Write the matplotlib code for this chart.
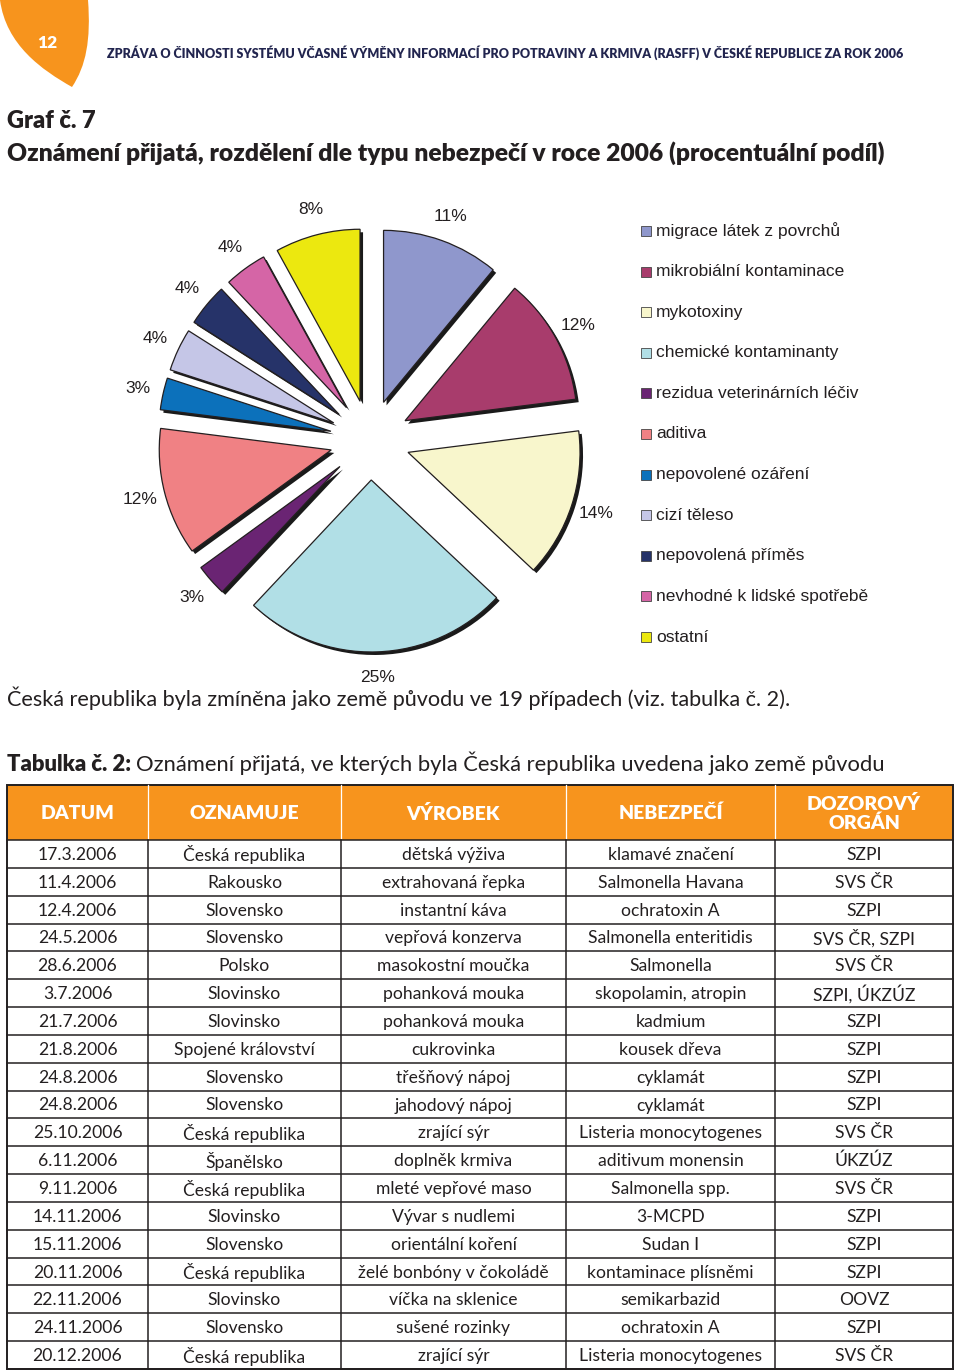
import matplotlib
matplotlib.use("Agg")
import matplotlib.pyplot as plt
from matplotlib.patches import Rectangle, PathPatch
from matplotlib.path import Path

plt.rcParams['font.family'] = ['Lato', 'DejaVu Sans']

# --- data ---------------------------------------------------------------
categories = ['migrace látek z povrchů', 'mikrobiální kontaminace', 'mykotoxiny',
              'chemické kontaminanty', 'rezidua veterinárních léčiv', 'aditiva',
              'nepovolené ozáření', 'cizí těleso', 'nepovolená příměs',
              'nevhodné k lidské spotřebě', 'ostatní']
shares = [11, 12, 14, 25, 3, 12, 3, 4, 4, 4, 8]
colors = ['#8f97cc', '#a83c6c', '#f8f6cc', '#b1dfe6', '#6a2473', '#f08184',
          '#0c71bb', '#c5c6e7', '#263369', '#d565a6', '#ece80f']

table_head = ['DATUM', 'OZNAMUJE', 'VÝROBEK', 'NEBEZPEČÍ', 'DOZOROVÝ\nORGÁN']
dates = ['17.3.2006', '11.4.2006', '12.4.2006', '24.5.2006', '28.6.2006', '3.7.2006',
         '21.7.2006', '21.8.2006', '24.8.2006', '24.8.2006', '25.10.2006', '6.11.2006',
         '9.11.2006', '14.11.2006', '15.11.2006', '20.11.2006', '22.11.2006',
         '24.11.2006', '20.12.2006']
notifiers = ['Česká republika', 'Rakousko', 'Slovensko', 'Slovensko', 'Polsko',
             'Slovinsko', 'Slovinsko', 'Spojené království', 'Slovensko', 'Slovensko',
             'Česká republika', 'Španělsko', 'Česká republika', 'Slovinsko', 'Slovensko',
             'Česká republika', 'Slovinsko', 'Slovensko', 'Česká republika']
products = ['dětská výživa', 'extrahovaná řepka', 'instantní káva', 'vepřová konzerva',
            'masokostní moučka', 'pohanková mouka', 'pohanková mouka', 'cukrovinka',
            'třešňový nápoj', 'jahodový nápoj', 'zrající sýr', 'doplněk krmiva',
            'mleté vepřové maso', 'Vývar s nudlemi', 'orientální koření',
            'želé bonbóny v čokoládě', 'víčka na sklenice', 'sušené rozinky', 'zrající sýr']
hazards = ['klamavé značení', 'Salmonella Havana', 'ochratoxin A', 'Salmonella enteritidis',
           'Salmonella', 'skopolamin, atropin', 'kadmium', 'kousek dřeva', 'cyklamát',
           'cyklamát', 'Listeria monocytogenes', 'aditivum monensin', 'Salmonella spp.',
           '3-MCPD', 'Sudan I', 'kontaminace plísněmi', 'semikarbazid', 'ochratoxin A',
           'Listeria monocytogenes']
authorities = ['SZPI', 'SVS ČR', 'SZPI', 'SVS ČR, SZPI', 'SVS ČR', 'SZPI, ÚKZÚZ', 'SZPI',
               'SZPI', 'SZPI', 'SZPI', 'SVS ČR', 'ÚKZÚZ', 'SVS ČR', 'SZPI', 'SZPI', 'SZPI',
               'OOVZ', 'SZPI', 'SVS ČR']

ORANGE = '#f7941d'
INK = '#231f20'
BOLD = 'heavy'

fig = plt.figure(figsize=(9.6, 13.71), dpi=100)
ax0 = fig.add_axes([0, 0, 1, 1])
ax0.set_xlim(0, 960)
ax0.set_ylim(1371, 0)
ax0.axis('off')
renderer = fig.canvas.get_renderer()


def fit(t, width):
    # scale font so the text spans the given pixel width
    w = t.get_window_extent(renderer).width
    t.set_fontsize(t.get_fontsize() * width / w)
    return t


# page header: orange petal with page number
petal = Path([(0, 0), (88, 0), (91, 40), (86, 66), (72, 87), (42, 70), (6, 45), (0, 0), (0, 0)],
             [Path.MOVETO, Path.LINETO, Path.CURVE4, Path.CURVE4, Path.CURVE4,
              Path.CURVE4, Path.CURVE4, Path.CURVE4, Path.CLOSEPOLY])
ax0.add_patch(PathPatch(petal, facecolor=ORANGE, edgecolor='none'))
ax0.text(47, 43, '12', color='white', fontsize=12.5, fontweight=BOLD, ha='center', va='center')
fit(ax0.text(107, 58, 'ZPRÁVA O ČINNOSTI SYSTÉMU VČASNÉ VÝMĚNY INFORMACÍ PRO POTRAVINY A KRMIVA '
             '(RASFF) V ČESKÉ REPUBLICE ZA ROK 2006', color='#22254f', fontsize=8,
             fontweight=BOLD, va='baseline'), 796)

# titles
ax0.text(7, 128, 'Graf č. 7', color=INK, fontsize=17, fontweight=BOLD, va='baseline')
fit(ax0.text(7, 161, 'Oznámení přijatá, rozdělení dle typu nebezpečí v roce 2006 '
             '(procentuální podíl)', color=INK, fontsize=16, fontweight=BOLD,
             va='baseline'), 875)

# --- pie ----------------------------------------------------------------
cx, cy, r_px, half = 370, 440, 172, 262
axp = fig.add_axes([(cx - half) / 960, (1371 - cy - half) / 1371, 2 * half / 960, 2 * half / 1371])
explode = [40 / r_px] * len(shares)
off = 3 / r_px
axp.pie(shares, colors=['#1a1a1a'] * len(shares), explode=explode, startangle=90,
        counterclock=False, center=(off, -off), wedgeprops=dict(linewidth=0))
wedges, texts = axp.pie(shares, colors=colors, explode=explode, startangle=90,
                        counterclock=False, labels=[f'{v}%' for v in shares],
                        labeldistance=1.15,
                        wedgeprops=dict(edgecolor=INK, linewidth=0.9),
                        textprops=dict(fontsize=12.5, color=INK, family='Liberation Sans'))
for t in texts:
    t.set_ha('center')
    t.set_va('center')
axp.set_xlim(-half / r_px, half / r_px)
axp.set_ylim(-half / r_px, half / r_px)
axp.set_aspect('equal')
axp.axis('off')

# legend
for i, (lab, col) in enumerate(zip(categories, colors)):
    y = 231 + i * 40.6
    ax0.add_patch(Rectangle((641, y - 5), 10, 10, facecolor=col, edgecolor='#444444',
                            linewidth=0.6))
    ax0.text(656, y, lab, fontsize=12.5, color=INK, family='Liberation Sans', va='center')

# --- text between chart and table --------------------------------------
fit(ax0.text(7, 706, 'Česká republika byla zmíněna jako země původu ve 19 případech '
             '(viz. tabulka č. 2).', color=INK, fontsize=15, va='baseline'), 784)

t1 = ax0.text(7, 771, 'Tabulka č. 2:', color=INK, fontsize=15, fontweight=BOLD, va='baseline')
w1 = t1.get_window_extent(renderer).width
t2 = ax0.text(7 + w1 + 4, 771, 'Oznámení přijatá, ve kterých byla Česká republika uvedena '
              'jako země původu', color=INK, fontsize=15, va='baseline')
w2 = t2.get_window_extent(renderer).width
k = 879 / (w1 + 4 + w2)
t1.set_fontsize(15 * k)
t2.set_fontsize(15 * k)
t2.set_x(7 + (w1 + 4) * k)

# --- table --------------------------------------------------------------
col_x = [7, 148, 341, 566, 775, 953]
head_top, head_bot = 785, 840
row_h = (1369 - head_bot) / len(dates)
table_bot = head_bot + row_h * len(dates)

ax0.add_patch(Rectangle((col_x[0], head_top), col_x[-1] - col_x[0], head_bot - head_top,
                        facecolor=ORANGE, edgecolor='none'))
for x in col_x[1:-1]:
    ax0.plot([x, x], [head_top, head_bot], color='white', lw=0.9)
    ax0.plot([x, x], [head_bot, table_bot], color=INK, lw=1.1)
for j in range(len(dates) + 1):
    y = head_bot + j * row_h
    ax0.plot([col_x[0], col_x[-1]], [y, y], color=INK, lw=1.1)
ax0.add_patch(Rectangle((col_x[0], head_top), col_x[-1] - col_x[0], table_bot - head_top,
                        facecolor='none', edgecolor=INK, linewidth=1.4))

for c, h in enumerate(table_head):
    xm = (col_x[c] + col_x[c + 1]) / 2
    ax0.text(xm, (head_top + head_bot) / 2 + 1, h, color='white', fontsize=14,
             fontweight=BOLD, ha='center', va='center', linespacing=1.15)

for c, column in enumerate([dates, notifiers, products, hazards, authorities]):
    xm = (col_x[c] + col_x[c + 1]) / 2
    for j, s in enumerate(column):
        ax0.text(xm, head_bot + (j + 0.5) * row_h + 1, s, color=INK, fontsize=12.6,
                 ha='center', va='center')

fig.savefig('out.png', dpi=100)
